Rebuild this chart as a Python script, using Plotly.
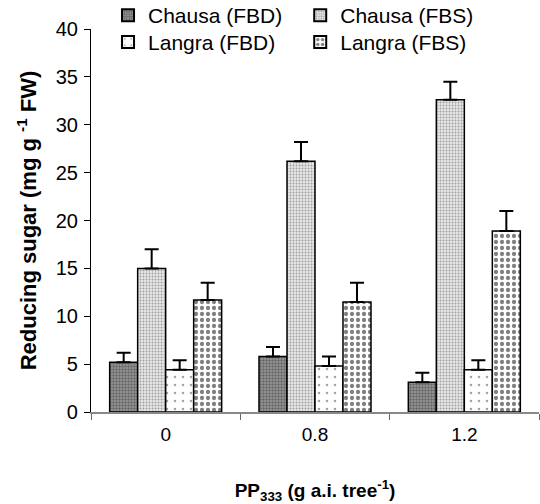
import plotly.graph_objects as go

categories = ["0", "0.8", "1.2"]
series_names = ["Chausa (FBD)", "Chausa (FBS)", "Langra (FBD)", "Langra (FBS)"]
chausa_fbd = [5.2, 5.8, 3.1]
chausa_fbs = [15.0, 26.2, 32.6]
langra_fbd = [4.4, 4.8, 4.4]
langra_fbs = [11.7, 11.5, 18.9]
chausa_fbd_err = [1.0, 1.0, 1.0]
chausa_fbs_err = [2.0, 2.0, 1.9]
langra_fbd_err = [1.0, 1.0, 1.0]
langra_fbs_err = [1.8, 2.0, 2.1]

values = [chausa_fbd, chausa_fbs, langra_fbd, langra_fbs]
errors = [chausa_fbd_err, chausa_fbs_err, langra_fbd_err, langra_fbs_err]
legend_ids = ["legend", "legend2", "legend3", "legend4"]
patterns = [
    dict(shape=".", fgcolor="#333333", bgcolor="#9a9a9a", size=3, solidity=0.5),
    dict(shape=".", fgcolor="#555555", bgcolor="#e6e6e6", size=3, solidity=0.3),
    dict(shape=".", fgcolor="#444444", bgcolor="#ffffff", size=8, solidity=0.08),
    dict(shape=".", fgcolor="#000000", bgcolor="#ffffff", size=6, solidity=0.4),
]

fig = go.Figure()
for name, v, e, p, lg in zip(series_names, values, errors, patterns, legend_ids):
    fig.add_trace(go.Bar(
        x=categories, y=v, name=name, legend=lg,
        marker=dict(color=p["bgcolor"], line=dict(color="black", width=1.5), pattern=p),
        error_y=dict(type="data", array=e, symmetric=False, arrayminus=[0]*len(e),
                     color="black", thickness=2, width=7),
    ))

leg_common = dict(orientation="h", xanchor="left", yanchor="middle",
                  bgcolor="rgba(0,0,0,0)", font=dict(size=21), itemsizing="constant")

fig.update_layout(
    width=540, height=504,
    margin=dict(l=91, r=1, t=29, b=92, autoexpand=False),
    paper_bgcolor="white", plot_bgcolor="white",
    barmode="group", bargap=0.25, bargroupgap=0,
    font=dict(family="Liberation Sans, Arial, sans-serif", color="black", size=19),
    showlegend=True,
    legend=dict(x=0.038, y=1.035, **leg_common),
    legend2=dict(x=0.467, y=1.035, **leg_common),
    legend3=dict(x=0.038, y=0.965, **leg_common),
    legend4=dict(x=0.467, y=0.965, **leg_common),
    xaxis=dict(
        showline=True, linecolor="#888888", linewidth=1.5,
        ticks="outside", tickson="boundaries", ticklen=6, tickcolor="#666666",
        tickfont=dict(size=19), ticklabelstandoff=4,
        title=dict(text="<b>PP<sub>333</sub> (g a.i. tree<sup>-1</sup>)</b>", font=dict(size=19), standoff=40),
    ),
    yaxis=dict(
        range=[0, 40], dtick=5, showgrid=False, zeroline=False,
        showline=True, linecolor="black", linewidth=1.2,
        ticks="outside", ticklen=6, tickcolor="black",
        tickfont=dict(size=20), ticklabelstandoff=2,
        title=dict(text="<b>Reducing sugar (mg g <sup>-1</sup> FW)</b>", font=dict(size=22), standoff=12),
    ),
)

fig.write_html("out.html")
